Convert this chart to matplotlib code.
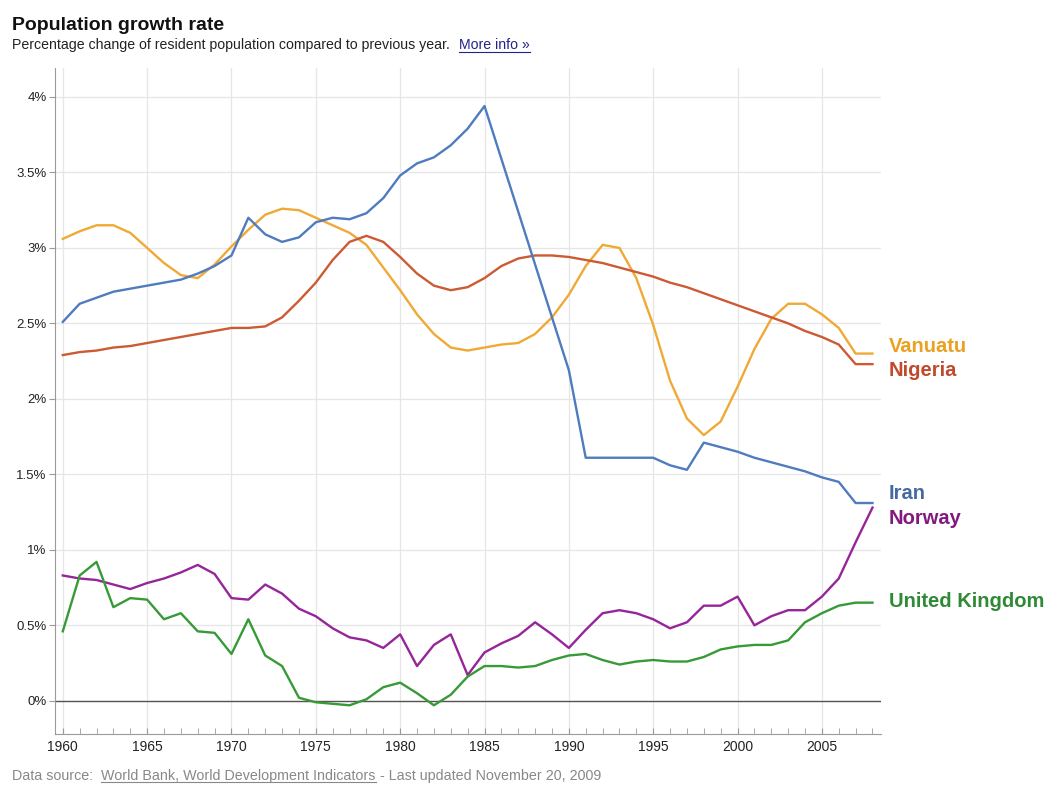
import numpy as np
import matplotlib
matplotlib.use('Agg')
from matplotlib import pyplot as plt
from matplotlib.lines import Line2D

plt.rcParams['font.family'] = ['Liberation Sans', 'DejaVu Sans']

years = list(range(1960, 2009))

vanuatu = [3.06, 3.11, 3.15, 3.15, 3.10, 3.00, 2.90, 2.82, 2.80, 2.89,
           3.01, 3.12, 3.22, 3.26, 3.25, 3.20, 3.15, 3.10, 3.02, 2.87,
           2.72, 2.56, 2.43, 2.34, 2.32, 2.34, 2.36, 2.37, 2.43, 2.54,
           2.69, 2.88, 3.02, 3.00, 2.80, 2.49, 2.12, 1.87, 1.76, 1.85,
           2.08, 2.33, 2.53, 2.63, 2.63, 2.56, 2.47, 2.30, 2.30]
nigeria = [2.29, 2.31, 2.32, 2.34, 2.35, 2.37, 2.39, 2.41, 2.43, 2.45,
           2.47, 2.47, 2.48, 2.54, 2.65, 2.77, 2.92, 3.04, 3.08, 3.04,
           2.94, 2.83, 2.75, 2.72, 2.74, 2.80, 2.88, 2.93, 2.95, 2.95,
           2.94, 2.92, 2.90, 2.87, 2.84, 2.81, 2.77, 2.74, 2.70, 2.66,
           2.62, 2.58, 2.54, 2.50, 2.45, 2.41, 2.36, 2.23, 2.23]
iran = [2.51, 2.63, 2.67, 2.71, 2.73, 2.75, 2.77, 2.79, 2.83, 2.88,
        2.95, 3.20, 3.09, 3.04, 3.07, 3.17, 3.20, 3.19, 3.23, 3.33,
        3.48, 3.56, 3.60, 3.68, 3.79, 3.94, 3.59, 3.24, 2.89, 2.54,
        2.19, 1.61, 1.61, 1.61, 1.61, 1.61, 1.56, 1.53, 1.71, 1.68,
        1.65, 1.61, 1.58, 1.55, 1.52, 1.48, 1.45, 1.31, 1.31]
norway = [0.83, 0.81, 0.80, 0.77, 0.74, 0.78, 0.81, 0.85, 0.90, 0.84,
          0.68, 0.67, 0.77, 0.71, 0.61, 0.56, 0.48, 0.42, 0.40, 0.35,
          0.44, 0.23, 0.37, 0.44, 0.17, 0.32, 0.38, 0.43, 0.52, 0.44,
          0.35, 0.47, 0.58, 0.60, 0.58, 0.54, 0.48, 0.52, 0.63, 0.63,
          0.69, 0.50, 0.56, 0.60, 0.60, 0.69, 0.81, 1.05, 1.28]
uk = [0.46, 0.83, 0.92, 0.62, 0.68, 0.67, 0.54, 0.58, 0.46, 0.45,
      0.31, 0.54, 0.30, 0.23, 0.02, -0.01, -0.02, -0.03, 0.01, 0.09,
      0.12, 0.05, -0.03, 0.04, 0.16, 0.23, 0.23, 0.22, 0.23, 0.27,
      0.30, 0.31, 0.27, 0.24, 0.26, 0.27, 0.26, 0.26, 0.29, 0.34,
      0.36, 0.37, 0.37, 0.40, 0.52, 0.58, 0.63, 0.65, 0.65]

# name, values, line colour, label colour
series = [
    ('Vanuatu', vanuatu, '#f0a935', '#eaa020'),
    ('Nigeria', nigeria, '#cc5a33', '#c24a2c'),
    ('Iran', iran, '#4f7bbf', '#46699f'),
    ('Norway', norway, '#96259a', '#821a7e'),
    ('United Kingdom', uk, '#379a37', '#2f8a35'),
]
label_y = {'Vanuatu': 2.35, 'Nigeria': 2.19, 'Iran': 1.37, 'Norway': 1.21,
           'United Kingdom': 0.66}

ytick_vals = [0, 0.5, 1, 1.5, 2, 2.5, 3, 3.5, 4]
ytick_labels = ['0%', '0.5%', '1%', '1.5%', '2%', '2.5%', '3%', '3.5%', '4%']
xtick_vals = list(range(1960, 2006, 5))

fig = plt.figure(figsize=(10.55, 7.85), dpi=100)
ax = fig.add_axes([0.052, 0.065, 0.783, 0.848])

for name, vals, col, lcol in series:
    ax.plot(years, vals, color=col, lw=1.7, solid_joinstyle='round', zorder=3)
    ax.text(2008.95, label_y[name], name, color=lcol, fontsize=14.5,
            fontweight='bold', va='center', ha='left', clip_on=False)

ax.axhline(0, color='#555555', lw=1, zorder=2)

ax.set_xlim(1959.53, 2008.5)
ax.set_ylim(-0.22, 4.19)
ax.set_yticks(ytick_vals)
ax.set_yticklabels(ytick_labels)
ax.set_xticks(xtick_vals)
ax.set_xticks(years, minor=True)
ax.grid(True, color='#e6e6e6', lw=0.9, zorder=0)

for s in ['top', 'right']:
    ax.spines[s].set_visible(False)
ax.spines['left'].set_color('#9a9a9a')
ax.spines['bottom'].set_color('#9a9a9a')
ax.tick_params(axis='y', length=4, color='#9a9a9a', labelsize=9.5, pad=2,
               labelcolor='#222222')
ax.tick_params(axis='x', which='both', direction='in', length=4,
               color='#9a9a9a', labelsize=10, pad=4, labelcolor='#222222')

fig.text(0.011, 0.962, 'Population growth rate', fontsize=14,
         fontweight='bold', color='#111111', va='baseline')


def chain(parts, x, y, size):
    # place text pieces one after another, return the text objects
    r = fig.canvas.get_renderer()
    out = []
    for s, col, gap in parts:
        t = fig.text(x + gap, y, s, fontsize=size, color=col, va='baseline')
        bb = t.get_window_extent(r).transformed(fig.transFigure.inverted())
        x = bb.x1
        out.append(t)
    return out


fig.canvas.draw()
sub, more = chain([
    ('Percentage change of resident population compared to previous year.',
     '#222222', 0),
    ('More info \u00bb', '#22228a', 0.009)], 0.011, 0.937, 10.2)
src, link, rest = chain([
    ('Data source:', '#888888', 0),
    ('World Bank, World Development Indicators', '#888888', 0.008),
    (' - Last updated November 20, 2009', '#888888', 0)], 0.011, 0.007, 10.3)

# underline the link texts
fig.canvas.draw()
r = fig.canvas.get_renderer()
for t in [more, link]:
    bb = t.get_window_extent(r).transformed(fig.transFigure.inverted())
    y0 = t.get_position()[1] - 0.003
    fig.add_artist(Line2D([bb.x0, bb.x1], [y0, y0], color=t.get_color(),
                          lw=0.8, transform=fig.transFigure))

fig.savefig('out.png', dpi=100, facecolor='white')
